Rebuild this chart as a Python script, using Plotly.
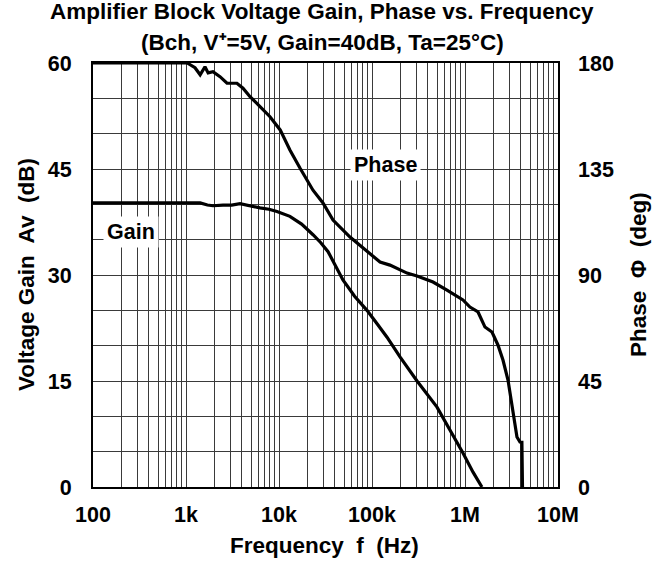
import plotly.graph_objects as go

# ---- data ----
gain_freq = [100, 1420, 1700, 1950, 2500, 3100, 3810, 4700, 6250, 7800, 9510, 13100,
             17500, 23200, 28000, 33700, 40000, 48700, 65000, 88300, 115000, 145000,
             200000, 305000, 500000, 690000, 951000, 1220000, 1520000]
gain_db = [40.2, 40.2, 39.9, 39.8, 39.9, 39.9, 40.1, 39.8, 39.5, 39.3, 39.0, 38.3,
           37.2, 35.7, 34.6, 33.3, 31.4, 29.3, 27.0, 25.0, 23.0, 21.2,
           18.4, 15.0, 11.3, 8.1, 4.8, 2.1, 0.0]

phase_freq = [100, 1030, 1250, 1420, 1600, 1730, 1950, 2320, 2760, 3530, 4100, 4880,
              6250, 8000, 10300, 13100, 16800, 23200, 29700, 38100, 58000, 88300,
              122000, 156000, 238000, 305000, 453000, 640000, 951000, 1130000,
              1380000, 1640000, 1950000, 2260000, 2560000, 2900000, 3280000,
              3620000, 3900000, 4090000, 4150000]
phase_deg = [180, 180, 178, 175, 178.4, 175.8, 176.3, 174.2, 171.4, 171.4, 169.3, 165.7,
             161.5, 157.2, 151.6, 143.1, 135.4, 126, 120.6, 113.3, 106.1, 100,
             95.5, 94.2, 90.8, 89.6, 87.0, 83.6, 79.4, 76.4,
             74.3, 67.9, 65.8, 60.3, 53.9, 45.4, 32.7,
             21.2, 19.1, 19.0, 0.0]

x_tickvals = [100, 1000, 10000, 100000, 1000000, 10000000]
x_ticktext = ["100", "1k", "10k", "100k", "1M", "10M"]
gain_ticks = [0, 15, 30, 45, 60]
phase_ticks = [0, 45, 90, 135, 180]

FONT = "Liberation Sans, Arial, sans-serif"
TICKF = dict(size=21.5, family=FONT, color="black", weight="bold")
LABF = dict(size=22.5, family=FONT, color="black", weight="bold")
CURF = dict(size=21.5, family=FONT, color="black", weight="bold")
GRID = "#3a3a3a"

fig = go.Figure()
fig.add_trace(go.Scatter(x=gain_freq, y=gain_db, mode="lines",
                         line=dict(color="black", width=3.2), name="Gain"))
fig.add_trace(go.Scatter(x=phase_freq, y=phase_deg, mode="lines", yaxis="y2",
                         line=dict(color="black", width=3.2), name="Phase"))

fig.update_layout(
    width=664, height=563,
    margin=dict(l=93, r=106, t=63, b=76),
    paper_bgcolor="white", plot_bgcolor="white",
    showlegend=False,
    font=dict(family=FONT, color="black", size=21),
    xaxis=dict(type="log", range=[2, 7], tickvals=x_tickvals, ticktext=x_ticktext,
               showgrid=True, gridcolor=GRID, gridwidth=1.2,
               minor=dict(dtick="D1", showgrid=True, gridcolor=GRID, gridwidth=1.2),
               showline=True, linecolor="black", linewidth=2.2, mirror=True,
               ticks="", tickfont=TICKF, ticklabelstandoff=7,
               automargin=False, zeroline=False),
    yaxis=dict(range=[0, 60], tickvals=gain_ticks,
               showgrid=False,
               minor=dict(dtick=5, showgrid=True, gridcolor=GRID, gridwidth=1.2),
               showline=True, linecolor="black", linewidth=2.2, mirror=True,
               ticks="", tickfont=TICKF, ticklabelstandoff=15,
               automargin=False, zeroline=False),
    yaxis2=dict(range=[0, 180], tickvals=phase_ticks, overlaying="y", side="right",
                showgrid=False, showline=False, ticks="",
                tickfont=TICKF, ticklabelstandoff=19,
                automargin=False, zeroline=False),
)

# title lines
fig.add_annotation(x=0.4925, y=1, xref="paper", yref="paper", yshift=51.5, yanchor="middle",
                   text="Amplifier Block Voltage Gain, Phase vs. Frequency", showarrow=False,
                   font=LABF)
fig.add_annotation(x=0.4925, y=1, xref="paper", yref="paper", yshift=21, yanchor="middle",
                   text="(Bch, V⁺=5V, Gain=40dB, Ta=25°C)", showarrow=False,
                   font=LABF)
# axis titles
fig.add_annotation(x=0, y=0.5, xref="paper", yref="paper", xshift=-67, xanchor="center",
                   yanchor="middle", textangle=-90, text="Voltage Gain  Av  (dB)",
                   showarrow=False, font=LABF)
fig.add_annotation(x=1, y=0.5, xref="paper", yref="paper", xshift=80, xanchor="center",
                   yanchor="middle", textangle=-90, text="Phase  Φ  (deg)",
                   showarrow=False, font=LABF)
fig.add_annotation(x=0.497, y=0, xref="paper", yref="paper", yshift=-58, yanchor="middle",
                   text="Frequency  f  (Hz)", showarrow=False, font=LABF)
# curve labels
fig.add_annotation(x=2.41, y=36.1, xref="x", yref="y", text="Gain", showarrow=False,
                   bgcolor="white", font=CURF, borderpad=3)
fig.add_annotation(x=5.14, y=45.6, xref="x", yref="y", text="Phase", showarrow=False,
                   bgcolor="white", font=CURF, borderpad=3)

fig.write_html("out.html", config={"displayModeBar": False},
               post_script="document.body.style.margin='0';")
